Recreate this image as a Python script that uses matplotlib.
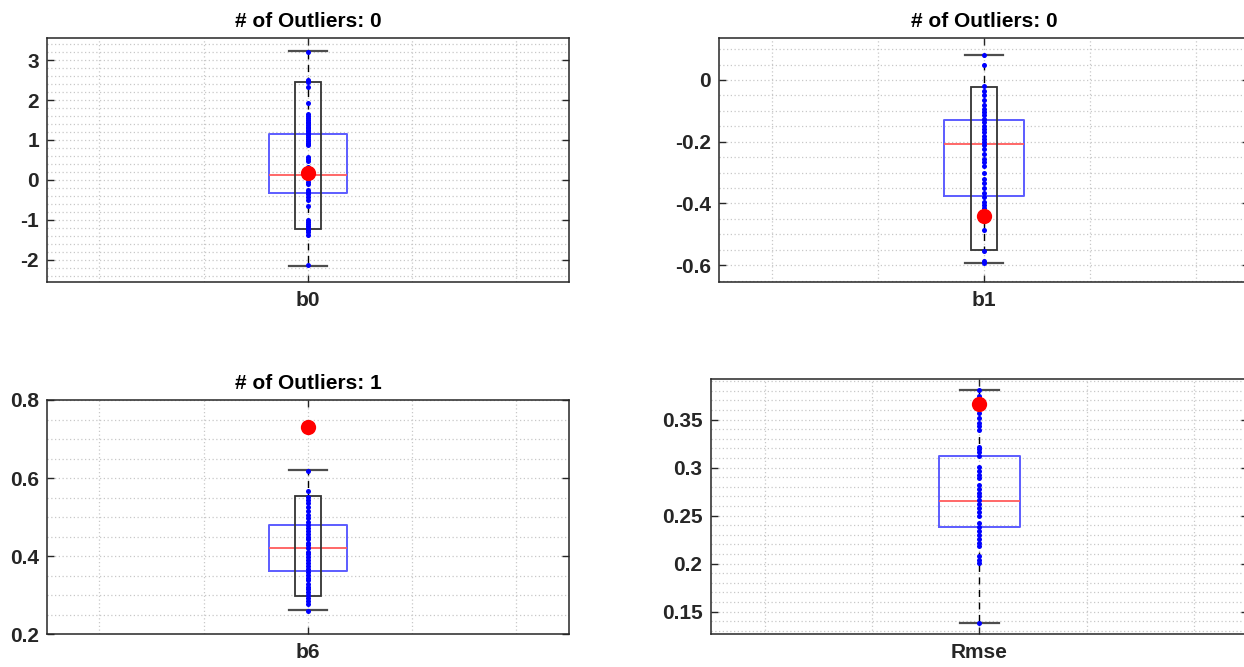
import matplotlib.pyplot as plt
from matplotlib.patches import Rectangle
from matplotlib.ticker import MultipleLocator, FormatStrFormatter

plt.rcParams['font.family'] = ['Liberation Sans', 'DejaVu Sans']
plt.rcParams['font.weight'] = 'bold'

names = ['b0', 'b1', 'b6', 'Rmse']
titles = ['# of Outliers: 0', '# of Outliers: 0', '# of Outliers: 1', None]

# box statistics per parameter
q1 = [-0.32, -0.376, 0.361, 0.2387]
median = [0.125, -0.206, 0.421, 0.2648]
q3 = [1.14, -0.13, 0.48, 0.3124]
whisker_lo = [-2.15, -0.594, 0.261, 0.1378]
whisker_hi = [3.22, 0.081, 0.621, 0.3813]

# inner range frame (not drawn for Rmse)
inner_lo = [-1.23, -0.551, 0.298, None]
inner_hi = [2.46, -0.022, 0.553, None]

# reference estimate shown as the big red dot
marked = [0.17, -0.44, 0.730, 0.3667]

samples_b0 = [3.21, 2.50, 2.47, 2.44, 2.32, 1.92, 1.64, 1.60, 1.55, 1.50,
              1.45, 1.42, 1.38, 1.33, 1.30, 1.25, 1.22, 1.18, 1.12, 1.08,
              1.03, 0.98, 0.93, 0.90, 0.87, 0.58, 0.52, 0.47, 0.33, 0.05,
              0.02, -0.05, -0.10, -0.25, -0.30, -0.36, -0.42, -0.50, -0.66,
              -1.00, -1.05, -1.10, -1.15, -1.20, -1.25, -1.30, -1.37, -2.14]
samples_b1 = [0.082, 0.050, -0.020, -0.035, -0.048, -0.065, -0.080, -0.095,
              -0.105, -0.115, -0.125, -0.135, -0.150, -0.160, -0.170, -0.180,
              -0.190, -0.200, -0.210, -0.225, -0.240, -0.255, -0.265, -0.280,
              -0.300, -0.320, -0.335, -0.350, -0.365, -0.380, -0.395, -0.405,
              -0.415, -0.485, -0.555, -0.585, -0.592]
samples_b6 = [0.617, 0.568, 0.552, 0.545, 0.535, 0.525, 0.515, 0.505, 0.497,
              0.488, 0.480, 0.472, 0.465, 0.458, 0.450, 0.443, 0.435, 0.428,
              0.420, 0.412, 0.405, 0.398, 0.390, 0.383, 0.375, 0.368, 0.360,
              0.352, 0.345, 0.338, 0.330, 0.322, 0.315, 0.308, 0.300, 0.292,
              0.285, 0.278, 0.260]
samples_rmse = [0.381, 0.375, 0.371, 0.362, 0.357, 0.352, 0.347, 0.343, 0.339,
                0.322, 0.319, 0.316, 0.312, 0.301, 0.296, 0.292, 0.289, 0.282,
                0.278, 0.274, 0.270, 0.266, 0.262, 0.258, 0.254, 0.250, 0.242,
                0.238, 0.234, 0.230, 0.226, 0.222, 0.218, 0.208, 0.204, 0.201,
                0.138]
samples = [samples_b0, samples_b1, samples_b6, samples_rmse]

y_limits = [(-2.56, 3.56), (-0.6555, 0.137), (0.2, 0.8), (0.1264, 0.392)]
major_step = [1, 0.2, 0.2, 0.05]
minor_step = [0.2, 0.05, 0.05, 0.01]

# subplot rectangles [left, bottom, width, height] in figure fractions
positions = [[0.0380, 0.5768, 0.4190, 0.3667],
             [0.5780, 0.5768, 0.4260, 0.3667],
             [0.0380, 0.0490, 0.4190, 0.3513],
             [0.5715, 0.0490, 0.4317, 0.3823]]

text_col = '#262626'
grid_col = '#c8c8c8'

fig = plt.figure(figsize=(12.44, 6.67), dpi=100)

for i in range(4):
    ax = fig.add_axes(positions[i])
    ax.set_xlim(0.5, 1.5)
    ax.set_ylim(*y_limits[i])

    # grid lines
    for gx in [0.6, 0.8, 1.0, 1.2, 1.4]:
        ax.axvline(gx, color=grid_col, lw=0.9, ls=(0, (1, 2)), zorder=0)
    ax.yaxis.set_major_locator(MultipleLocator(major_step[i]))
    ax.yaxis.set_minor_locator(MultipleLocator(minor_step[i]))
    ax.yaxis.set_major_formatter(FormatStrFormatter('%g'))
    ax.grid(True, axis='y', which='both', color=grid_col, lw=0.9,
            ls=(0, (1, 2)), zorder=0)

    stats = [{'med': median[i], 'q1': q1[i], 'q3': q3[i],
              'whislo': whisker_lo[i], 'whishi': whisker_hi[i],
              'fliers': []}]
    ax.bxp(stats, positions=[1], widths=0.15, capwidths=[0.072],
           showfliers=False, manage_ticks=False,
           boxprops=dict(color='#5c5cff', lw=1.4),
           medianprops=dict(color='#ff5c5c', lw=1.3),
           whiskerprops=dict(color='black', lw=1.0, ls=(0, (5, 4))),
           capprops=dict(color='#4d4d4d', lw=1.6))

    if inner_lo[i] is not None:
        ax.add_patch(Rectangle((1 - 0.025, inner_lo[i]), 0.05,
                               inner_hi[i] - inner_lo[i], fill=False,
                               ec='#333333', lw=1.3, zorder=3))

    ax.plot([1] * len(samples[i]), samples[i], 'o', color='blue', ms=3.6,
            mec='none', zorder=4)
    ax.plot([1], [marked[i]], 'o', color='red', ms=11, mec='none', zorder=5)

    ax.set_xticks([1])
    ax.set_xticklabels([names[i]])
    ax.tick_params(axis='both', which='major', direction='in', length=5,
                   width=1, color=text_col, labelsize=15, labelcolor=text_col,
                   top=True, right=True, pad=6)
    ax.tick_params(axis='y', which='minor', length=0)
    for s in ax.spines.values():
        s.set_color(text_col)
        s.set_linewidth(1.1)

    if titles[i]:
        ax.set_title(titles[i], fontsize=15, fontweight='bold', color='black',
                     pad=8)

fig.savefig('out.png', dpi=100)
